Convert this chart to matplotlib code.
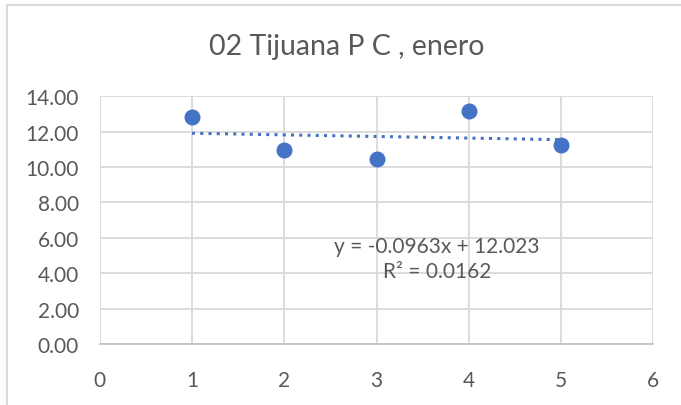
import matplotlib
matplotlib.use("Agg")
import matplotlib.pyplot as plt
from matplotlib.lines import Line2D
import numpy as np

title = "02 Tijuana P C , enero"
x_vals = [1, 2, 3, 4, 5]
y_vals = [12.82, 10.96, 10.45, 13.15, 11.27]
eq_text = "y = -0.0963x + 12.023"
r2_text = "R\u00b2 = 0.0162"
x_ticks = [0, 1, 2, 3, 4, 5, 6]
y_ticks = [0, 2, 4, 6, 8, 10, 12, 14]

plt.rcParams['font.family'] = ['Lato', 'DejaVu Sans']
W, H = 681, 406
fig = plt.figure(figsize=(W / 100, H / 100), dpi=100)
ax = fig.add_axes([99.75 / W, 1 - 345 / H, (653.25 - 99.75) / W, (345 - 97.3) / H])

grid_c = '#d9d9d9'
text_c = '#595959'
blue = '#4472C4'

ax.set_xlim(0, 6)
ax.set_ylim(0, 14)
ax.set_xticks(x_ticks)
ax.set_yticks(y_ticks)
ax.set_yticklabels([f"{v:.2f}" for v in y_ticks])
ax.grid(True, color=grid_c, linewidth=1.3)
ax.set_axisbelow(True)
for s in ['top', 'right', 'left']:
    ax.spines[s].set_visible(False)
ax.spines['bottom'].set_color('#bfbfbf')
ax.spines['bottom'].set_linewidth(1.2)
ax.tick_params(length=0, labelsize=15, colors=text_c)
ax.tick_params(axis='y', pad=15)
ax.tick_params(axis='x', pad=19)

# trendline
coef = np.polyfit(x_vals, y_vals, 1)
tx = np.array([min(x_vals), max(x_vals)])
ax.plot(tx, np.polyval(coef, tx), color=blue, linewidth=2.2,
        linestyle=(0, (1, 1.7)), zorder=2)

ax.plot(x_vals, y_vals, 'o', color=blue, markersize=10.5, zorder=3)

fig.text(437 / W, 1 - 247 / H, eq_text, ha='center', va='center',
         fontsize=15, color=text_c)
fig.text(437 / W, 1 - 272 / H, r2_text, ha='center', va='center',
         fontsize=15, color=text_c)
fig.text(347 / W, 1 - 47 / H, title, ha='center', va='center',
         fontsize=20.5, color=text_c)

# chart border (left and top visible)
fig.add_artist(Line2D([6.5 / W, 6.5 / W], [0, 1 - 5.5 / H], transform=fig.transFigure,
                      color=grid_c, linewidth=1.5))
fig.add_artist(Line2D([6.5 / W, 1], [1 - 5.5 / H, 1 - 5.5 / H], transform=fig.transFigure,
                      color=grid_c, linewidth=1.5))

fig.savefig("out.png", dpi=100)
